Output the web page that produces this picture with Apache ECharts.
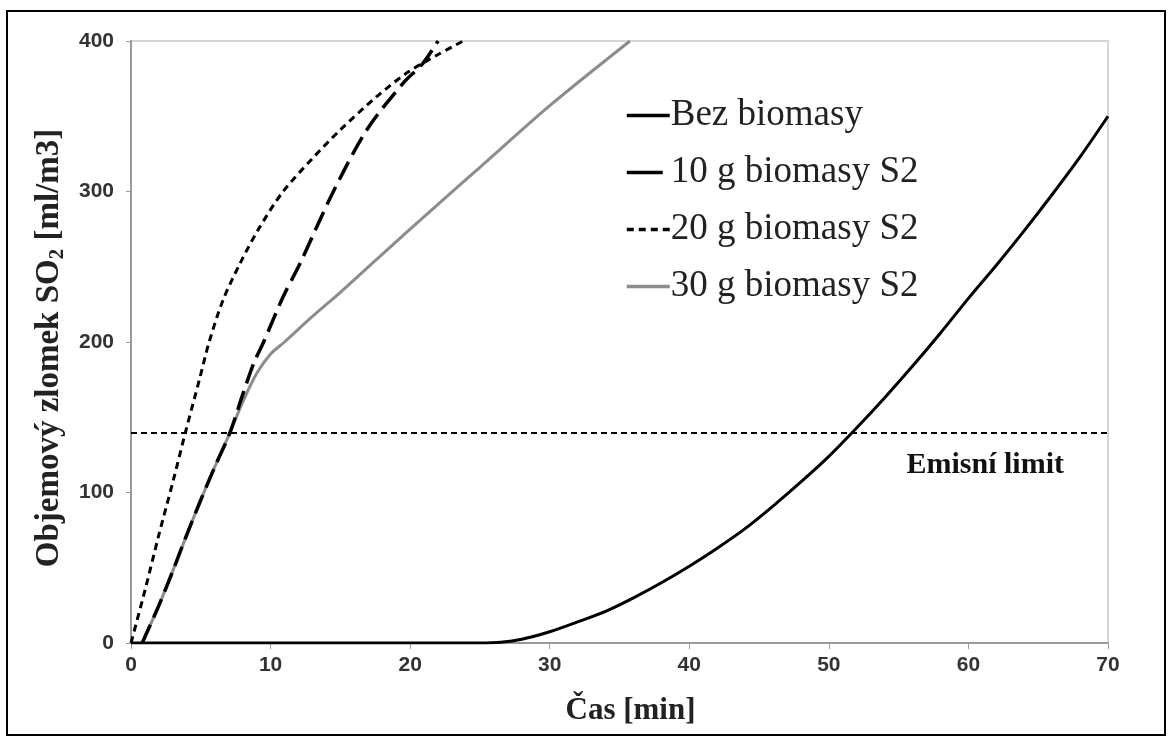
<!DOCTYPE html>
<html>
<head>
<meta charset="utf-8">
<script src="https://cdn.jsdelivr.net/npm/echarts@6/dist/echarts.min.js"></script>
<style>
  html, body { margin: 0; padding: 0; background: #fff; }
  #chart { width: 1170px; height: 744px; }
</style>
</head>
<body>
<div id="chart"></div>
<script>
// [time min, SO2 ml/m3]
const bezBiomasy = [
  [0, 0], [5, 0], [10, 0], [15, 0], [20, 0], [25, 0], [26.5, 0.5], [28, 2.5], [30, 7.5],
  [32, 14], [34, 21], [36, 30], [38, 40], [40, 51], [42, 63], [44, 76], [46, 91],
  [48, 107], [50, 124], [52, 143], [54, 163], [56, 184], [58, 206], [60, 229],
  [62, 251], [64, 274], [66, 298], [68, 323], [70, 350]
];
const biomasa10 = [
  [0.8, 0], [2, 25], [3, 48], [4, 72], [5, 95], [6, 117], [7.1, 140], [8, 165],
  [8.8, 186], [9.5, 200], [10.9, 230], [12.1, 252], [14.5, 300], [16.9, 341],
  [19.5, 372], [20.9, 385], [22, 400]
];
const biomasa20 = [
  [0, 0], [1, 35], [2, 72], [3, 107], [3.9, 140], [4.9, 175], [5.6, 200], [6.6, 228],
  [7.8, 252], [9.2, 276], [10.9, 300], [13, 322], [15, 341], [17.6, 363], [19.8, 379],
  [22, 391], [23.8, 400]
];
const biomasa30 = [
  [0.8, 0], [2, 25], [3, 48], [4, 72], [5, 95], [6, 117], [7.1, 140], [8, 160],
  [9, 179], [10, 192], [11, 200], [13, 217], [15, 233], [17.5, 254], [20, 275],
  [22.9, 299], [25, 316], [30, 357], [35.75, 400]
];
const emisniLimit = 140;
const seriesNames = ['Bez biomasy', '10 g biomasy S2', '20 g biomasy S2', '30 g biomasy S2'];

const chart = echarts.init(document.getElementById('chart'));
const tickLabel = { fontFamily: 'Liberation Sans', fontWeight: 'bold', fontSize: 21, color: '#333' };
const axisLine = { lineStyle: { color: '#9a9a9a', width: 2 } };

chart.setOption({
  animation: false,
  backgroundColor: '#fff',
  graphic: [{
    type: 'rect',
    shape: { x: 7, y: 11, width: 1158, height: 724 },
    style: { fill: 'none', stroke: '#000', lineWidth: 2 },
    z: -1
  }],
  grid: {
    left: 131, top: 41, right: 62, bottom: 101,
    show: true, borderColor: '#d6d6d6', borderWidth: 2
  },
  legend: {
    data: [
      seriesNames[0],
      { name: seriesNames[1], lineStyle: { type: [36, 20] } },
      seriesNames[2],
      seriesNames[3]
    ],
    orient: 'vertical',
    left: 620, top: 92,
    itemWidth: 43, itemHeight: 14, itemGap: 20,
    itemStyle: { opacity: 0 },
    lineStyle: { width: 3.5 },
    textStyle: { fontFamily: 'Liberation Serif', fontSize: 37, color: '#222', padding: [0, 0, 0, -4] }
  },
  xAxis: {
    type: 'value', min: 0, max: 70, interval: 10,
    name: 'Čas [min]', nameLocation: 'middle', nameGap: 52,
    nameTextStyle: { fontFamily: 'Liberation Serif', fontWeight: 'bold', fontSize: 31, color: '#222', padding: [0, 0, 0, 22] },
    axisLine: axisLine,
    axisTick: { show: true, length: 6, lineStyle: { color: '#9a9a9a', width: 1 } },
    axisLabel: Object.assign({ margin: 12 }, tickLabel),
    splitLine: { show: false }
  },
  yAxis: {
    type: 'value', min: 0, max: 400, interval: 100,
    name: '{a|Objemový zlomek SO}{s|2}{a| [ml/m3]}',
    nameLocation: 'middle', nameGap: 62,
    nameTextStyle: {
      padding: [0, 12, 0, 0],
      rich: {
        a: { fontFamily: 'Liberation Serif', fontWeight: 'bold', fontSize: 33, color: '#222', lineHeight: 38 },
        s: { fontFamily: 'Liberation Serif', fontWeight: 'bold', fontSize: 21, color: '#222', lineHeight: 38, padding: [16, 0, 0, 0] }
      }
    },
    axisLine: Object.assign({ show: true }, axisLine),
    axisTick: { show: true, length: 5, lineStyle: { color: '#9a9a9a', width: 1 } },
    axisLabel: Object.assign({ margin: 17 }, tickLabel),
    splitLine: { show: false }
  },
  series: [
    {
      name: '30 g biomasy S2', type: 'line', data: biomasa30, symbol: 'none', z: 1,
      smooth: 0.3,
      lineStyle: { color: '#8c8c8c', width: 3 }, itemStyle: { color: '#8c8c8c' }
    },
    {
      name: 'Bez biomasy', type: 'line', data: bezBiomasy, symbol: 'none', z: 2,
      smooth: 0.3,
      lineStyle: { color: '#000', width: 3 }, itemStyle: { color: '#000' },
      markLine: {
        silent: true, symbol: 'none',
        lineStyle: { color: '#000', width: 2, type: [6, 4] },
        label: {
          formatter: 'Emisní limit', position: 'insideEndBottom', distance: [44, 18],
          fontFamily: 'Liberation Serif', fontWeight: 'bold', fontSize: 30, color: '#111'
        },
        data: [{ yAxis: emisniLimit }]
      }
    },
    {
      name: '10 g biomasy S2', type: 'line', data: biomasa10, symbol: 'none', z: 3,
      smooth: 0.3,
      lineStyle: { color: '#000', width: 3.5, type: [20, 8] }, itemStyle: { color: '#000' }
    },
    {
      name: '20 g biomasy S2', type: 'line', data: biomasa20, symbol: 'none', z: 3,
      smooth: 0.3,
      lineStyle: { color: '#000', width: 3, type: [7, 5] }, itemStyle: { color: '#000' }
    }
  ]
});
</script>
</body>
</html>
